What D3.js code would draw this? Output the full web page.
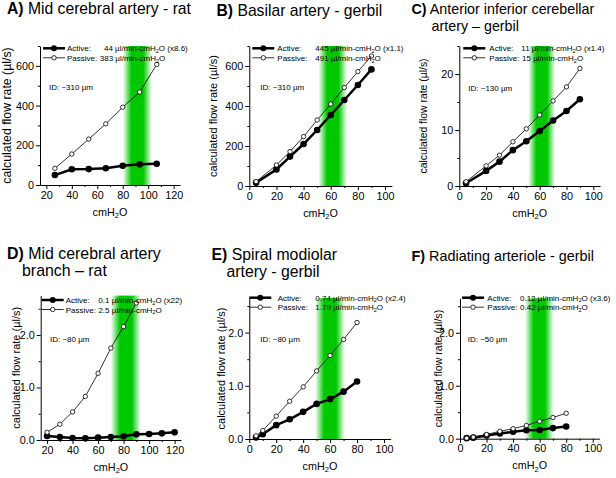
<!DOCTYPE html>
<html><head><meta charset="utf-8">
<script src="https://cdn.jsdelivr.net/npm/d3@7"></script>
<style>body{margin:0;background:#fff} text{font-family:"Liberation Sans",Arial,sans-serif;fill:#000}</style>
</head><body><svg id="c" width="616" height="478"></svg>
<script>
// ---- data ----
const xA = [26.7, 40, 53.3, 66.7, 80, 93.3, 106.7];
const activeA = [50, 79, 80, 84, 97, 104, 107];
const passiveA = [84, 156, 231, 308, 392, 468, 607];
const xB = [5, 20, 30, 40, 50, 60, 70, 80, 90];
const activeB = [16, 83, 147, 210, 280, 355, 430, 505, 583];
const passiveB = [22, 105, 172, 247, 330, 410, 492, 572, 650];
const xC = [5, 20, 30, 40, 50, 60, 70, 80, 90];
const activeC = [0.5, 2.7, 4.35, 6.4, 8.0, 9.8, 11.7, 13.4, 15.5];
const passiveC = [0.77, 3.6, 5.5, 7.9, 10.2, 12.7, 15.2, 17.7, 21.0];
const xD = [20, 30, 40, 50, 60, 70, 80, 90, 100, 110, 120];
const activeD = [0.076, 0.057, 0.038, 0.032, 0.045, 0.057, 0.07, 0.108, 0.115, 0.127, 0.146];
const passiveD = [0.146, 0.30, 0.535, 0.83, 1.27, 1.75, 2.16, 2.61];
const xE = [5, 10, 20, 30, 40, 50, 60, 70, 80];
const activeE = [0.03, 0.09, 0.26, 0.37, 0.51, 0.66, 0.75, 0.89, 1.08];
const passiveE = [0.06, 0.16, 0.43, 0.71, 0.98, 1.28, 1.57, 1.87, 2.19];
const xF = [5, 10, 20, 30, 40, 50, 60, 70, 80];
const activeF = [0.01, 0.02, 0.06, 0.10, 0.13, 0.16, 0.165, 0.20, 0.23];
const passiveF = [0.01, 0.03, 0.08, 0.14, 0.19, 0.25, 0.33, 0.40, 0.48];

const titleLetters = ["A)", "B)", "C)", "D)", "E)", "F)"];
const titleLines = [
  [" Mid cerebral artery - rat"],
  [" Basilar artery - gerbil"],
  [" Anterior inferior cerebellar", "artery \u2013 gerbil"],
  [" Mid cerebral artery", "branch \u2013 rat"],
  [" Spiral modiolar", "artery - gerbil"],
  [" Radiating arteriole - gerbil"]
];
const activeSlopes = ["44", "445", "11", "0.1", "0.74", "0.12"];
const activeRatios = ["(x8.6)", "(x1.1)", "(x1.4)", "(x22)", "(x2.4)", "(x3.6)"];
const passiveSlopes = ["383", "491", "15", "2.5", "1.79", "0.42"];
const innerDiameters = ["~310", "~310", "~130", "~80", "~80", "~50"];
const bands = [[80, 103], [51, 72], [51.5, 71.5], [70, 93.5], [49, 71], [49, 70.5]];
const xMajorA = [20, 40, 60, 80, 100, 120];
const xMajorB = [0, 20, 40, 60, 80, 100];
const yMajorBig = [0, 200, 400, 600];
const yMajorC = [0, 10, 20];
const yMajorSmall = [0, 1, 2];

// ---- layout (positions only) ----
const panels = [
  {x: xA, a: activeA, p: passiveA, xd: [15, 125], yd: [0, 700], L: 40, R: 180, T: 46, B: 185,
   xt: xMajorA, xstep: 10, yt: yMajorBig, ystep: 100, tx: 7, ty: 14, ind: 0, tf: 15.7,
   leg: {lx: 3, tx: 27, av: 64, pv: null, y0: 2.3, idx: 9, idy: 44}, ytx: 11, ytf: 12.3},
  {x: xB, a: activeB, p: passiveB, xd: [0, 105], yd: [0, 700], L: 249.3, R: 391.8, T: 46, B: 186,
   xt: xMajorB, xstep: 10, yt: yMajorBig, ystep: 100, tx: 216.5, ty: 15.5, ind: 0, tf: 15.7,
   leg: {lx: 3, tx: 28, av: 66, pv: 66, y0: 2.3, idx: 11, idy: 44}, ytx: 217, ytf: 11},
  {x: xC, a: activeC, p: passiveC, xd: [0, 105], yd: [0, 25], L: 459.3, R: 600, T: 46, B: 186,
   xt: xMajorB, xstep: 10, yt: yMajorC, ystep: 5, tx: 411.5, ty: 14, ind: 20, tf: 14.3,
   leg: {lx: 4, tx: 30, av: 62, pv: null, y0: 2.3, idx: 9, idy: 45}, ytx: 427, ytf: 10.4},
  {x: xD, a: activeD, p: passiveD, xd: [15, 125], yd: [0, 2.75], L: 40.7, R: 181, T: 295.6, B: 440,
   xt: xMajorA, xstep: 10, yt: yMajorSmall, ystep: 0.5, tx: 7, ty: 258.5, ind: 15, tf: 15.9,
   leg: {lx: 1, tx: 25, av: 57.6, pv: null, y0: 4.4, idx: 9.3, idy: 46}, ytx: 20, ytf: 11},
  {x: xE, a: activeE, p: passiveE, xd: [0, 105], yd: [0, 2.65], L: 249.3, R: 390.7, T: 298, B: 439,
   xt: xMajorB, xstep: 10, yt: yMajorSmall, ystep: 0.5, tx: 211.5, ty: 259.5, ind: 15, tf: 15.8,
   leg: {lx: 0, tx: 28.4, av: 66, pv: 66, y0: -0.3, idx: 11, idy: 44}, ytx: 225, ytf: 11},
  {x: xF, a: activeF, p: passiveF, xd: [0, 105], yd: [0, 2.65], L: 460, R: 599.4, T: 298.3, B: 438.7,
   xt: xMajorB, xstep: 10, yt: yMajorSmall, ystep: 0.5, tx: 411.5, ty: 260.5, ind: 0, tf: 14.4,
   leg: {lx: 2, tx: 27.3, av: 60, pv: null, y0: -0.6, idx: 7.7, idy: 44}, ytx: 442, ytf: 10.6}
];

const svg = d3.select("#c");
const defs = svg.append("defs");

function range(a, b, s) { const r = []; for (let v = a; v <= b + 1e-9; v += s) r.push(+v.toFixed(6)); return r; }

function subText(g, x, y, before, after, size) {
  const t = g.append("text").attr("x", x).attr("y", y).attr("font-size", size);
  t.append("tspan").text(before);
  t.append("tspan").attr("font-size", size * 0.7).attr("dy", size * 0.22).text("2");
  t.append("tspan").attr("dy", -size * 0.22).text(after);
  return t;
}

panels.forEach((P, i) => {
  const g = svg.append("g");
  const xs = d3.scaleLinear().domain(P.xd).range([P.L, P.R]);
  const ys = d3.scaleLinear().domain(P.yd).range([P.B, P.T]);

  // title
  const t1 = g.append("text").attr("x", P.tx).attr("y", P.ty).attr("font-size", P.tf);
  t1.append("tspan").attr("font-weight", "bold").text(titleLetters[i]);
  t1.append("tspan").text(titleLines[i][0]);
  if (titleLines[i][1]) {
    g.append("text").attr("x", P.tx + P.ind).attr("y", P.ty + 17).attr("font-size", P.tf).text(titleLines[i][1]);
  }

  // green band
  const gid = "band" + i;
  const grad = defs.append("linearGradient").attr("id", gid).attr("x1", 0).attr("x2", 1).attr("y1", 0).attr("y2", 0);
  [[0, 0], [0.3, 1], [0.7, 1], [1, 0]].forEach(s =>
    grad.append("stop").attr("offset", s[0]).attr("stop-color", "#00c800").attr("stop-opacity", s[1]));
  g.append("rect").attr("x", xs(bands[i][0])).attr("width", xs(bands[i][1]) - xs(bands[i][0]))
    .attr("y", ys(P.yd[1])).attr("height", ys(0) - ys(P.yd[1])).attr("fill", `url(#${gid})`);

  // axes
  const xMinor = range(Math.ceil(P.xd[0] / P.xstep) * P.xstep, P.xd[1], P.xstep).filter(v => !P.xt.includes(v));
  const yMinor = range(P.ystep, P.yd[1], P.ystep).filter(v => !P.yt.some(m => Math.abs(m - v) < 1e-9));
  const xg = g.append("g").attr("transform", `translate(0,${P.B})`);
  xg.call(d3.axisBottom(xs).tickValues(P.xt).tickSize(4).tickSizeOuter(0).tickPadding(2));
  xg.append("g").call(d3.axisBottom(xs).tickValues(xMinor).tickSize(2).tickFormat("")).select(".domain").remove();
  const yg = g.append("g").attr("transform", `translate(${P.L},0)`);
  yg.call(d3.axisLeft(ys).tickValues(P.yt).tickSize(4).tickSizeOuter(0).tickPadding(2));
  yg.append("g").call(d3.axisLeft(ys).tickValues(yMinor).tickSize(2).tickFormat("")).select(".domain").remove();
  g.selectAll(".tick text").attr("font-size", 10.8).attr("font-family", '"Liberation Sans",Arial,sans-serif');
  g.selectAll(".domain, .tick line").attr("stroke", "#000");

  // axis titles
  subText(g, (P.L + P.R) / 2, P.B + 30.5, "cmH", "O", 10.8).attr("text-anchor", "middle");
  g.append("text").attr("transform", `translate(${P.ytx},${(P.T + P.B) / 2}) rotate(-90)`)
    .attr("text-anchor", "middle").attr("font-size", P.ytf).text("calculated flow rate (\u00b5l/s)");

  // series
  const line = d3.line().x(d => xs(d[0])).y(d => ys(d[1]));
  const aPts = P.a.map((v, k) => [P.x[k], v]);
  const pPts = P.p.map((v, k) => [P.x[k], v]);
  g.append("path").datum(aPts).attr("d", line).attr("fill", "none").attr("stroke", "#000").attr("stroke-width", 2.5);
  g.selectAll(null).data(aPts).enter().append("circle").attr("cx", d => xs(d[0])).attr("cy", d => ys(d[1]))
    .attr("r", 3.3).attr("fill", "#000");
  g.append("path").datum(pPts).attr("d", line).attr("fill", "none").attr("stroke", "#000").attr("stroke-width", 0.8);
  g.selectAll(null).data(pPts).enter().append("circle").attr("cx", d => xs(d[0])).attr("cy", d => ys(d[1]))
    .attr("r", 2.2).attr("fill", "#fff").attr("stroke", "#000").attr("stroke-width", 0.8);

  // legend
  const Lg = P.leg;
  const r1 = P.T + Lg.y0, r2 = r1 + 9.5;
  const lx0 = P.L + Lg.lx, lx1 = lx0 + 22;
  g.append("line").attr("x1", lx0).attr("x2", lx1).attr("y1", r1).attr("y2", r1).attr("stroke", "#000").attr("stroke-width", 2.5);
  g.append("circle").attr("cx", (lx0 + lx1) / 2).attr("cy", r1).attr("r", 3).attr("fill", "#000");
  g.append("line").attr("x1", lx0).attr("x2", lx1).attr("y1", r2).attr("y2", r2).attr("stroke", "#000").attr("stroke-width", 0.8);
  g.append("circle").attr("cx", (lx0 + lx1) / 2).attr("cy", r2).attr("r", 2.2).attr("fill", "#fff").attr("stroke", "#000").attr("stroke-width", 0.8);
  const fs = 8;
  g.append("text").attr("x", P.L + Lg.tx).attr("y", r1 + 3).attr("font-size", fs).text("Active:");
  const pl = g.append("text").attr("x", P.L + Lg.tx).attr("y", r2 + 3).attr("font-size", fs).text("Passive:");
  const pvx = Lg.pv !== null ? P.L + Lg.pv : P.L + Lg.tx + pl.node().getComputedTextLength() + 2.5;
  subText(g, P.L + Lg.av, r1 + 3, activeSlopes[i] + " \u00b5l/min-cmH", "O " + activeRatios[i], fs);
  subText(g, pvx, r2 + 3, passiveSlopes[i] + " \u00b5l/min-cmH", "O", fs);
  g.append("text").attr("x", P.L + Lg.idx).attr("y", P.T + Lg.idy).attr("font-size", fs).text("ID: " + innerDiameters[i] + " \u00b5m");
});
</script></body></html>
